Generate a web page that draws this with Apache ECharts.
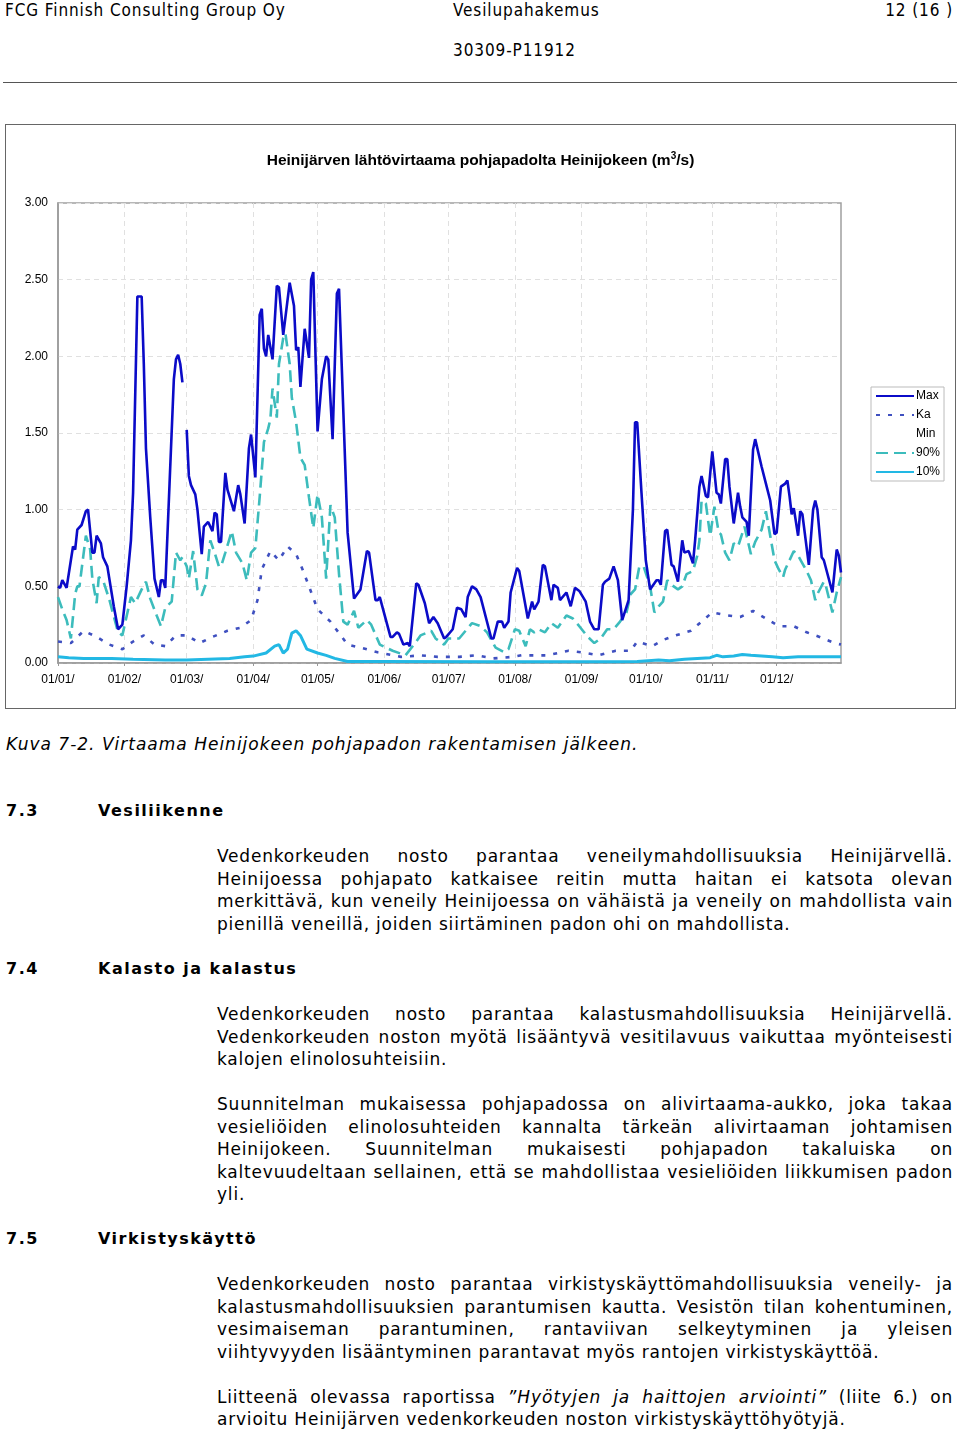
<!DOCTYPE html>
<html>
<head>
<meta charset="utf-8">
<script src="https://cdn.jsdelivr.net/npm/echarts@6/dist/echarts.min.js"></script>
<style>
  body { margin: 0; width: 960px; height: 1431px; background: #fff; position: relative; color: #000; }
  .hdr { position: absolute; font-family: "DejaVu Sans Condensed", "DejaVu Sans"; font-size: 17px; letter-spacing: 0.9px; line-height: 22px; }
  .txt { position: absolute; left: 217px; width: 736px; font-family: "DejaVu Sans"; font-size: 17px; letter-spacing: 0.8px; line-height: 22.5px; }
  .txt div { white-space: nowrap; }
  .txt .j { text-align: justify; text-align-last: justify; white-space: normal; }
  .hd { position: absolute; font-family: "DejaVu Sans"; font-weight: bold; font-size: 16px; letter-spacing: 1.5px; line-height: 22px; }
  #chart { position: absolute; left: 5px; top: 124px; width: 949px; height: 583px; border: 1px solid #666; }
</style>
</head>
<body>
<div class="hdr" style="left:5px;top:-1px;">FCG Finnish Consulting Group Oy</div>
<div class="hdr" style="left:453px;top:-1px;">Vesilupahakemus</div>
<div class="hdr" style="right:7px;top:-1px;">12 (16 )</div>
<div class="hdr" style="left:453px;top:39px;">30309-P11912</div>
<div style="position:absolute;left:3px;top:82px;width:954px;height:1px;background:#555;"></div>

<div id="chart"></div>

<div style="position:absolute;left:6px;top:733px;font-family:'DejaVu Sans';font-style:italic;font-size:17px;letter-spacing:1px;line-height:22px;">Kuva 7-2. Virtaama Heinijokeen pohjapadon rakentamisen jälkeen.</div>

<div class="hd" style="left:6px;top:800px;">7.3</div>
<div class="hd" style="left:98px;top:800px;">Vesiliikenne</div>
<div class="txt" style="top:845px;">
  <div class="j">Vedenkorkeuden nosto parantaa veneilymahdollisuuksia Heinijärvellä.</div>
  <div class="j">Heinijoessa pohjapato katkaisee reitin mutta haitan ei katsota olevan</div>
  <div class="j">merkittävä, kun veneily Heinijoessa on vähäistä ja veneily on mahdollista vain</div>
  <div>pienillä veneillä, joiden siirtäminen padon ohi on mahdollista.</div>
</div>

<div class="hd" style="left:6px;top:958px;">7.4</div>
<div class="hd" style="left:98px;top:958px;">Kalasto ja kalastus</div>
<div class="txt" style="top:1003px;">
  <div class="j">Vedenkorkeuden nosto parantaa kalastusmahdollisuuksia Heinijärvellä.</div>
  <div class="j">Vedenkorkeuden noston myötä lisääntyvä vesitilavuus vaikuttaa myönteisesti</div>
  <div>kalojen elinolosuhteisiin.</div>
</div>
<div class="txt" style="top:1093px;">
  <div class="j">Suunnitelman mukaisessa pohjapadossa on alivirtaama-aukko, joka takaa</div>
  <div class="j">vesieliöiden elinolosuhteiden kannalta tärkeän alivirtaaman johtamisen</div>
  <div class="j">Heinijokeen. Suunnitelman mukaisesti pohjapadon takaluiska on</div>
  <div class="j">kaltevuudeltaan sellainen, että se mahdollistaa vesieliöiden liikkumisen padon</div>
  <div>yli.</div>
</div>

<div class="hd" style="left:6px;top:1228px;">7.5</div>
<div class="hd" style="left:98px;top:1228px;">Virkistyskäyttö</div>
<div class="txt" style="top:1273px;">
  <div class="j">Vedenkorkeuden nosto parantaa virkistyskäyttömahdollisuuksia veneily- ja</div>
  <div class="j">kalastusmahdollisuuksien parantumisen kautta. Vesistön tilan kohentuminen,</div>
  <div class="j">vesimaiseman parantuminen, rantaviivan selkeytyminen ja yleisen</div>
  <div>viihtyvyyden lisääntyminen parantavat myös rantojen virkistyskäyttöä.</div>
</div>
<div class="txt" style="top:1386px;line-height:22px;">
  <div class="j">Liitteenä olevassa raportissa <i style="letter-spacing:1px;">”Hyötyjen ja haittojen arviointi”</i> (liite 6.) on</div>
  <div>arvioitu Heinijärven vedenkorkeuden noston virkistyskäyttöhyötyjä.</div>
</div>

<script>
// days per month (leap year, Feb 29 left empty in the data)
const monthDays = [31, 29, 31, 30, 31, 30, 31, 31, 30, 31, 30, 31];
const yTicks = [0, 0.5, 1, 1.5, 2, 2.5, 3];

// [day index, m3/s]
const maxFlow = [
  [0,0.50],[1,0.49],[2,0.54],[4,0.49],[6,0.67],[7,0.76],[8,0.74],[9,0.87],[11,0.90],[13,0.99],[14,1.00],
  [16,0.72],[17,0.72],[18,0.83],[20,0.78],[21,0.69],[23,0.63],[26,0.37],[28,0.22],[30,0.25],[32,0.50],
  [34,0.80],[35,1.11],[37,2.39],[39,2.39],[40,1.95],[41,1.40],[43,0.95],[45,0.55],[47,0.43],[48,0.54],
  [49,0.54],[50,0.49],[52,1.17],[54,1.85],[55,1.98],[56,2.01],[57,1.95],[58,1.83],[59,null],[60,1.52],
  [61,1.22],[62,1.16],[64,1.10],[65,1.00],[67,0.71],[68,0.89],[70,0.92],[72,0.86],[73,0.98],[74,0.97],
  [75,0.79],[76,0.79],[78,1.24],[79,1.13],[82,0.99],[84,1.16],[85,1.10],[87,0.91],[89,1.40],[90,1.49],
  [92,1.21],[94,2.27],[95,2.31],[96,2.05],[97,2.00],[98,2.14],[100,1.98],[102,2.46],[103,2.45],[105,2.14],
  [108,2.48],[110,2.33],[111,2.04],[112,2.06],[113,1.80],[115,2.18],[117,1.99],[118,2.50],[119,2.55],
  [121,1.51],[123,1.85],[125,2.00],[126,1.98],[128,1.46],[130,2.41],[131,2.44],[135,0.85],[138,0.42],
  [139,0.44],[141,0.48],[144,0.73],[145,0.72],[148,0.41],[149,0.41],[150,0.43],[155,0.17],[156,0.17],
  [158,0.20],[159,0.19],[161,0.12],[163,0.13],[164,0.11],[167,0.52],[168,0.51],[171,0.39],[173,0.26],
  [175,0.30],[177,0.26],[180,0.16],[181,0.17],[184,0.22],[186,0.36],[188,0.35],[190,0.30],[191,0.43],
  [193,0.50],[195,0.48],[197,0.43],[202,0.16],[203,0.16],[205,0.27],[207,0.27],[208,0.23],[210,0.27],
  [211,0.46],[214,0.62],[215,0.60],[219,0.29],[221,0.40],[222,0.35],[224,0.40],[226,0.64],[227,0.63],
  [230,0.41],[231,0.51],[233,0.49],[234,0.41],[237,0.46],[239,0.37],[241,0.49],[243,0.47],[246,0.40],
  [248,0.27],[250,0.22],[252,0.22],[254,0.51],[255,0.53],[257,0.55],[259,0.63],[261,0.54],[263,0.28],
  [266,0.41],[268,1.00],[269,1.57],[270,1.57],[272,1.11],[274,0.67],[276,0.48],[279,0.54],[280,0.54],
  [281,0.51],[283,0.86],[284,0.87],[286,0.64],[287,0.63],[289,0.53],[291,0.80],[292,0.72],[294,0.73],
  [296,0.65],[297,0.80],[299,1.15],[300,1.22],[302,1.09],[303,1.08],[305,1.38],[307,1.11],[308,1.10],
  [309,1.04],[311,1.33],[312,1.33],[313,1.15],[315,0.91],[317,1.11],[318,1.02],[319,0.95],[321,0.92],
  [322,0.83],[324,1.39],[325,1.46],[326,1.40],[328,1.28],[330,1.17],[332,1.06],[334,0.84],[335,0.85],
  [337,1.15],[338,1.16],[339,1.17],[340,1.19],[341,1.09],[342,0.97],[343,1.01],[345,0.83],[346,0.99],
  [347,0.97],[350,0.64],[352,1.00],[353,1.06],[354,1.00],[356,0.69],[357,0.67],[361,0.46],[363,0.74],
  [364,0.70],[365,0.59]
];
const meanFlow = [
  [0,0.14],[6,0.13],[12,0.21],[18,0.17],[24,0.12],[30,0.09],[35,0.14],[40,0.18],[45,0.12],[50,0.11],
  [55,0.18],[60,0.18],[66,0.13],[72,0.17],[79,0.21],[85,0.23],[90,0.28],[93,0.41],[95,0.61],[99,0.73],
  [103,0.67],[107,0.76],[111,0.71],[114,0.61],[117,0.50],[121,0.35],[127,0.27],[135,0.12],[141,0.10],
  [149,0.07],[160,0.04],[169,0.05],[177,0.04],[187,0.04],[195,0.05],[203,0.03],[212,0.04],[216,0.05],
  [228,0.05],[238,0.08],[244,0.07],[252,0.05],[260,0.08],[267,0.08],[270,0.14],[277,0.11],[282,0.15],
  [288,0.18],[295,0.21],[300,0.27],[305,0.33],[312,0.31],[318,0.30],[324,0.34],[330,0.29],[336,0.24],
  [343,0.24],[349,0.20],[355,0.17],[362,0.13],[365,0.12]
];
const minFlow = [];
const p90Flow = [
  [0,0.43],[2,0.35],[4,0.28],[6,0.16],[8,0.45],[9,0.50],[10,0.50],[13,0.83],[15,0.74],[16,0.55],[18,0.39],
  [19,0.56],[21,0.54],[24,0.41],[28,0.20],[30,0.18],[34,0.43],[36,0.39],[39,0.48],[41,0.53],[43,0.42],
  [46,0.31],[48,0.24],[50,0.36],[53,0.40],[55,0.72],[57,0.67],[58,0.69],[60,0.63],[61,0.55],[63,0.73],
  [65,0.48],[67,0.44],[69,0.52],[71,0.80],[73,0.72],[75,0.63],[76,0.63],[78,0.72],[81,0.86],[83,0.72],
  [86,0.65],[88,0.54],[90,0.72],[92,0.75],[94,1.08],[96,1.44],[98,1.53],[99,1.59],[100,1.79],[102,1.60],
  [103,1.95],[105,2.12],[106,2.15],[108,1.95],[109,1.73],[111,1.57],[113,1.34],[115,1.29],[117,1.08],
  [119,0.88],[121,1.10],[123,0.95],[125,0.55],[127,1.03],[129,0.95],[131,0.58],[133,0.27],[135,0.25],
  [138,0.34],[140,0.23],[144,0.28],[146,0.25],[150,0.12],[156,0.08],[162,0.05],[167,0.14],[169,0.18],
  [174,0.21],[176,0.16],[180,0.12],[182,0.16],[187,0.16],[193,0.26],[197,0.24],[200,0.20],[204,0.10],
  [208,0.07],[210,0.09],[213,0.22],[215,0.21],[218,0.11],[220,0.22],[222,0.20],[224,0.22],[227,0.20],
  [230,0.26],[233,0.23],[237,0.31],[240,0.29],[243,0.24],[247,0.17],[250,0.13],[253,0.16],[256,0.22],
  [259,0.22],[262,0.27],[265,0.33],[267,0.45],[269,0.48],[271,0.63],[273,0.63],[276,0.50],[278,0.33],
  [280,0.37],[282,0.40],[284,0.54],[286,0.51],[289,0.48],[291,0.50],[293,0.58],[296,0.60],[298,0.70],
  [299,0.80],[300,1.06],[302,1.04],[304,0.83],[306,1.02],[308,0.85],[309,0.84],[311,0.72],[313,0.67],
  [315,0.78],[317,0.76],[320,0.89],[321,0.83],[323,0.71],[325,0.79],[328,0.87],[330,0.99],[332,0.83],
  [334,0.67],[336,0.61],[338,0.56],[339,0.61],[343,0.73],[345,0.70],[347,0.65],[349,0.60],[351,0.54],
  [353,0.41],[354,0.45],[357,0.53],[358,0.50],[361,0.33],[363,0.46],[365,0.56]
];
const p10Flow = [
  [0,0.04],[5,0.035],[12,0.03],[25,0.03],[35,0.025],[50,0.02],[60,0.02],[70,0.025],[80,0.03],[87,0.04],
  [91,0.045],[97,0.065],[101,0.11],[103,0.12],[105,0.065],[107,0.09],[109,0.195],[111,0.21],[113,0.18],
  [116,0.09],[121,0.065],[125,0.05],[129,0.03],[135,0.01],[150,0.01],[200,0.008],[260,0.008],[270,0.01],
  [280,0.02],[285,0.015],[292,0.025],[298,0.03],[304,0.035],[307,0.05],[310,0.04],[315,0.045],[319,0.055],
  [323,0.05],[328,0.045],[333,0.04],[338,0.035],[345,0.04],[365,0.04]
];

const dayLabels = [];
const monthStarts = [];
monthDays.forEach((n, m) => {
  monthStarts.push(dayLabels.length);
  for (let d = 1; d <= n; d++) {
    dayLabels.push(String(d).padStart(2, "0") + "/" + String(m + 1).padStart(2, "0") + "/");
  }
});
const isMonthStart = (i) => monthStarts.includes(i);
const toData = (arr) => arr.map(([d, v]) => [d, v === null ? "-" : v]);

const chartDom = document.getElementById("chart");
const myChart = echarts.init(chartDom);

const lineSeries = (name, data, color, width, type, z) => ({
  name,
  type: "line",
  data: toData(data),
  symbol: "none",
  legendIcon: "none",
  connectNulls: false,
  z,
  color,
  lineStyle: { color, width, type },
});

const option = {
  animation: false,
  title: {
    text: "{a|Heinijärven lähtövirtaama pohjapadolta Heinijokeen (m}{s|3}{a|/s)}",
    left: "center",
    top: 21,
    textStyle: {
      rich: {
        a: { fontFamily: "Liberation Sans", fontWeight: "bold", fontSize: 15.5, color: "#000" },
        s: { fontFamily: "Liberation Sans", fontWeight: "bold", fontSize: 10, color: "#000", verticalAlign: "top", padding: [0, 0, 9, 0] },
      },
    },
  },
  legend: {
    orient: "vertical",
    left: 865,
    top: 262,
    backgroundColor: "#fff",
    borderColor: "#bbb",
    borderWidth: 1,
    padding: [3, 4, 3, 4],
    itemWidth: 38,
    itemHeight: 12,
    itemGap: 7,
    itemStyle: { opacity: 0, borderWidth: 0 },
    textStyle: { fontFamily: "Liberation Sans", fontSize: 12, color: "#000", padding: [0, 0, 0, -3] },
    data: ["Max", "Ka", "Min", "90%", "10%"],
  },
  grid: {
    left: 52,
    top: 78,
    width: 783,
    height: 460,
    show: true,
    borderColor: "#a0a0a0",
    borderWidth: 1.5,
  },
  xAxis: {
    type: "category",
    data: dayLabels,
    boundaryGap: false,
    axisLine: { lineStyle: { color: "#999", width: 1.5 } },
    axisTick: { interval: (i) => isMonthStart(i), length: 3, lineStyle: { color: "#999" } },
    axisLabel: {
      interval: (i) => isMonthStart(i),
      fontFamily: "Liberation Sans",
      fontSize: 12,
      color: "#000",
      margin: 11,
    },
    splitLine: {
      show: true,
      interval: (i) => isMonthStart(i) && i > 0,
      lineStyle: { color: "#e0e0e0", type: [5, 4], width: 1 },
    },
  },
  yAxis: {
    type: "value",
    min: yTicks[0],
    max: yTicks[yTicks.length - 1],
    interval: 0.5,
    axisLine: { show: true, lineStyle: { color: "#999", width: 1.5 } },
    axisTick: { show: false },
    axisLabel: {
      formatter: (v) => v.toFixed(2),
      fontFamily: "Liberation Sans",
      fontSize: 12,
      color: "#000",
      margin: 10,
    },
    splitLine: { lineStyle: { color: "#e0e0e0", type: [5, 4], width: 1 } },
  },
  series: [
    lineSeries("Max", maxFlow, "#0b0bc8", 2.6, "solid", 5),
    lineSeries("Ka", meanFlow, "#3f50c0", 2.6, [4, 8], 3),
    lineSeries("Min", minFlow, "#ffffff", 2, "solid", 1),
    lineSeries("90%", p90Flow, "#3cbcbc", 2.6, [12, 6], 4),
    lineSeries("10%", p10Flow, "#22b8e4", 3, "solid", 4),
  ],
};

myChart.setOption(option);
</script>
</body>
</html>
